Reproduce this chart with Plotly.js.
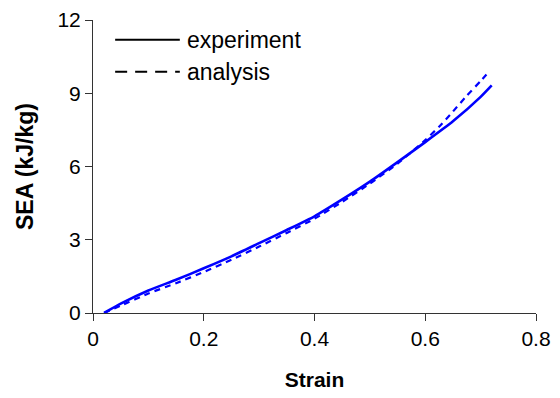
<!DOCTYPE html>
<html>
<head>
<meta charset="utf-8">
<script src="https://cdn.plot.ly/plotly-3.0.1.min.js"></script>
<style>html,body{margin:0;padding:0;background:#fff;}#chart{width:560px;height:398px;}</style>
</head>
<body>
<div id="chart"></div>
<script>
// Experiment series (strain vs SEA, kJ/kg)
const expStrain = [0.02, 0.05, 0.1, 0.15, 0.2, 0.25, 0.3, 0.35, 0.4, 0.45, 0.5, 0.55, 0.6, 0.65, 0.7, 0.72];
const expSEA    = [0.0, 0.38, 0.92, 1.36, 1.83, 2.32, 2.86, 3.4, 3.96, 4.65, 5.38, 6.18, 7.0, 7.85, 8.85, 9.32];
// Analysis series
const anaStrain = [0.02, 0.05, 0.1, 0.15, 0.2, 0.25, 0.3, 0.35, 0.4, 0.45, 0.5, 0.55, 0.6, 0.625, 0.65, 0.675, 0.7, 0.715];
const anaSEA    = [0.0, 0.3, 0.8, 1.22, 1.68, 2.18, 2.72, 3.28, 3.86, 4.55, 5.3, 6.12, 7.08, 7.63, 8.25, 8.9, 9.5, 9.88];
// Axis ticks
const xTicks = [0, 0.2, 0.4, 0.6, 0.8];
const xTickText = ['0', '0.2', '0.4', '0.6', '0.8'];
const yTicks = [0, 3, 6, 9, 12];
const legendNames = ['experiment', 'analysis'];

const FONT = 'Liberation Sans, Arial, sans-serif';
const BLUE = '#0000FF';

const traces = [
  {x: expStrain, y: expSEA, type: 'scatter', mode: 'lines', name: legendNames[0],
   line: {color: BLUE, width: 2.6, shape: 'spline', smoothing: 0.5}, showlegend: false},
  {x: anaStrain, y: anaSEA, type: 'scatter', mode: 'lines', name: legendNames[1],
   line: {color: BLUE, width: 2.2, dash: '6px,5px', shape: 'spline', smoothing: 0.5}, showlegend: false}
];

const layout = {
  width: 560, height: 398,
  margin: {l: 93, r: 24, t: 20, b: 85},
  paper_bgcolor: '#fff', plot_bgcolor: '#fff',
  font: {family: FONT, color: '#000', size: 21},
  showlegend: false,
  xaxis: {
    range: [0, 0.8], tickvals: xTicks, ticktext: xTickText,
    showgrid: false, zeroline: false, showline: true, linecolor: '#333', linewidth: 1,
    ticks: 'outside', ticklen: 7, tickcolor: '#333', tickwidth: 1,
    tickfont: {family: FONT, size: 21, color: '#000'},
    title: {text: '<b>Strain</b>', font: {family: FONT, size: 21, color: '#000'}, standoff: 23}
  },
  yaxis: {
    range: [0, 12], tickvals: yTicks,
    showgrid: false, zeroline: false, showline: true, linecolor: '#333', linewidth: 1,
    ticks: 'outside', ticklen: 7, tickcolor: '#333', tickwidth: 1,
    tickfont: {family: FONT, size: 21, color: '#000'},
    title: {text: '<b>SEA (kJ/kg)</b>', font: {family: FONT, size: 23, color: '#000'}, standoff: 17}
  },
  shapes: [
    {type: 'line', xref: 'paper', yref: 'paper', x0: 0.05, x1: 0.196, y0: 0.933, y1: 0.933,
     line: {color: '#000', width: 2}},
    {type: 'line', xref: 'paper', yref: 'paper', x0: 0.05, x1: 0.196, y0: 0.823, y1: 0.823,
     line: {color: '#000', width: 2, dash: '12px,8px'}}
  ],
  annotations: [
    {xref: 'paper', yref: 'paper', x: 0.207, y: 0.931, xanchor: 'left', yanchor: 'middle',
     text: legendNames[0], showarrow: false, font: {family: FONT, size: 23, color: '#000'}},
    {xref: 'paper', yref: 'paper', x: 0.207, y: 0.821, xanchor: 'left', yanchor: 'middle',
     text: legendNames[1], showarrow: false, font: {family: FONT, size: 23, color: '#000'}}
  ]
};

Plotly.newPlot('chart', traces, layout, {displayModeBar: false, staticPlot: true});
</script>
</body>
</html>
